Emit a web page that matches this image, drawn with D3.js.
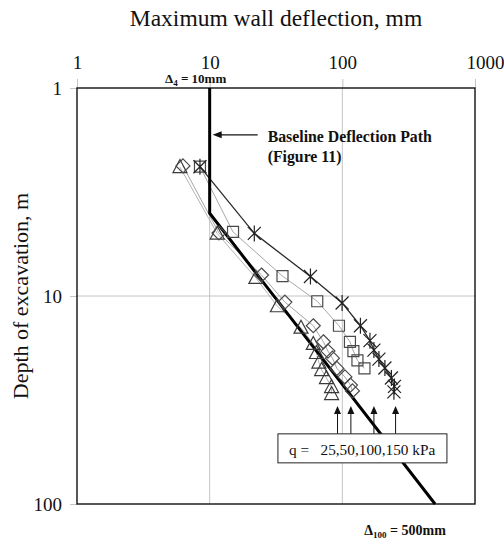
<!DOCTYPE html>
<html>
<head>
<meta charset="utf-8">
<script src="https://cdn.jsdelivr.net/npm/d3@7"></script>
<style>
  body { margin: 0; background: #fff; }
  svg { display: block; font-family: "Liberation Serif", "Times New Roman", serif; }
</style>
</head>
<body>
<div id="chart"></div>
<script>
const width = 504;
const height = 539;

// tick values
const xTicks = [1, 10, 100, 1000];
const yTicks = [1, 10, 100];
const gridX = [10, 100];
const gridY = [10];

// [deflection mm, depth m]
const q25 = [[5.97, 2.40], [11.4, 5.01], [22.3, 8.19], [32.4, 11.2], [48.8, 14.2], [60.4, 17.0],
  [63.8, 18.8], [66.6, 20.9], [69.8, 22.7], [75.9, 24.8], [83.0, 27.4], [83.0, 29.6]];
const q50 = [[6.29, 2.37], [11.75, 4.98], [24.6, 7.93], [36.9, 10.7], [60.4, 13.9], [72.0, 16.6],
  [77.9, 18.4], [84.2, 19.9], [91.0, 22.3], [104.6, 24.5], [115.1, 26.8], [119.2, 28.6]];
const q100 = [[8.45, 2.39], [15.0, 4.92], [35.4, 8.02], [64.7, 10.6], [94.3, 13.9], [114.1, 16.6],
  [121.2, 18.4], [130.0, 20.4], [146.8, 22.3]];
const q150 = [[8.45, 2.39], [21.7, 5.0], [57.5, 8.06], [99.6, 10.8], [136.9, 13.9], [161.5, 16.4],
  [173.0, 18.2], [188.7, 20.1], [209.4, 22.2], [234.4, 24.8], [247.0, 27.2], [244.8, 28.9]];

// baseline deflection path (Figure 11)
const baselinePath = [[10, 1], [10, 4], [500, 100]];

// arrows pointing at the q series
const arrowX = [92, 116, 173, 252];
const arrowDepth = [33.8, 46];

const x = d3.scaleLog().domain([1, 1000]).range([77, 475]);
const y = d3.scaleLog().domain([1, 100]).range([88, 504]);

const svg = d3.select('#chart')
  .append('svg')
  .attr('width', width)
  .attr('height', height);

// gridlines
const grid = svg.append('g').attr('stroke', '#c4c4c4').attr('stroke-width', 1);
grid.selectAll('line.gx')
  .data(gridX)
  .join('line')
  .attr('x1', d => x(d)).attr('x2', d => x(d))
  .attr('y1', y(1)).attr('y2', y(100));
grid.selectAll('line.gy')
  .data(gridY)
  .join('line')
  .attr('x1', x(1)).attr('x2', x(1000))
  .attr('y1', d => y(d)).attr('y2', d => y(d));

// axes
const xAxis = svg.append('g')
  .attr('transform', `translate(0, ${y(1)})`)
  .call(d3.axisTop(x).tickValues(xTicks).tickFormat(d3.format('d')).tickSize(9).tickPadding(10));
const yAxis = svg.append('g')
  .attr('transform', `translate(${x(1)}, 0)`)
  .call(d3.axisLeft(y).tickValues(yTicks).tickFormat(d3.format('d')).tickSize(7).tickPadding(8));

[xAxis, yAxis].forEach(a => {
  a.select('.domain').remove();
  a.selectAll('line').attr('stroke', '#c4c4c4');
  a.selectAll('text')
    .attr('fill', '#111')
    .style('font-size', '19px')
    .style('font-family', '"Liberation Serif", serif');
});
xAxis.selectAll('text').filter(d => d === 1000).attr('dx', 10);
yAxis.selectAll('text').attr('dy', '0.35em');

// frame
svg.append('rect')
  .attr('x', x(1)).attr('y', y(1))
  .attr('width', x(1000) - x(1))
  .attr('height', y(100) - y(1))
  .attr('fill', 'none')
  .attr('stroke', '#111')
  .attr('stroke-width', 1.4);

// axis titles
svg.append('text')
  .attr('x', (x(1) + x(1000)) / 2)
  .attr('y', 26)
  .attr('text-anchor', 'middle')
  .style('font-size', '23.5px')
  .attr('fill', '#111')
  .text('Maximum wall deflection, mm');

svg.append('text')
  .attr('transform', `translate(28, ${(y(1) + y(100)) / 2}) rotate(-90)`)
  .attr('text-anchor', 'middle')
  .style('font-size', '22px')
  .attr('fill', '#111')
  .text('Depth of excavation, m');

const line = d3.line().x(d => x(d[0])).y(d => y(d[1]));

// series lines
const series = [
  { data: q25, color: '#b4b4b4', width: 1, mark: 'triangle' },
  { data: q50, color: '#a4a4a4', width: 1, mark: 'diamond' },
  { data: q100, color: '#a8a8a8', width: 1, mark: 'square' },
  { data: q150, color: '#2a2a2a', width: 1.3, mark: 'star' }
];

svg.append('g')
  .selectAll('path')
  .data(series)
  .join('path')
  .attr('d', d => line(d.data))
  .attr('fill', 'none')
  .attr('stroke', d => d.color)
  .attr('stroke-width', d => d.width);

// baseline deflection path
svg.append('path')
  .attr('d', line(baselinePath))
  .attr('fill', 'none')
  .attr('stroke', '#000')
  .attr('stroke-width', 3);

// markers
const markPaths = {
  triangle: 'M0,-7.5L7,5.5L-7,5.5Z',
  diamond: 'M0,-7L7,0L0,7L-7,0Z',
  square: 'M-5.5,-5.5H5.5V5.5H-5.5Z',
  star: 'M-6.5,-6.5L6.5,6.5M-6.5,6.5L6.5,-6.5M0,-8V8'
};
const markColor = { triangle: '#3a3a3a', diamond: '#4a4a4a', square: '#4a4a4a', star: '#222' };

series.forEach(s => {
  svg.append('g')
    .selectAll('path')
    .data(s.data)
    .join('path')
    .attr('transform', d => `translate(${x(d[0])}, ${y(d[1])})`)
    .attr('d', markPaths[s.mark])
    .attr('fill', 'none')
    .attr('stroke', markColor[s.mark])
    .attr('stroke-width', 1.2);
});

// arrows up to the series
const arrows = svg.append('g');
arrows.selectAll('line')
  .data(arrowX)
  .join('line')
  .attr('x1', d => x(d)).attr('x2', d => x(d))
  .attr('y1', y(arrowDepth[1])).attr('y2', y(arrowDepth[0]) + 4)
  .attr('stroke', '#111')
  .attr('stroke-width', 1);
arrows.selectAll('path')
  .data(arrowX)
  .join('path')
  .attr('transform', d => `translate(${x(d)}, ${y(arrowDepth[0])})`)
  .attr('d', 'M0,0L3.5,8L-3.5,8Z')
  .attr('fill', '#111');

// q legend box
const boxLeft = x(32.7);
const boxTop = y(arrowDepth[1]);
svg.append('rect')
  .attr('x', boxLeft).attr('y', boxTop)
  .attr('width', 169).attr('height', 29)
  .attr('fill', '#fff')
  .attr('stroke', '#222')
  .attr('stroke-width', 1);
svg.append('text')
  .attr('x', boxLeft + 11)
  .attr('y', boxTop + 21)
  .style('font-size', '15.3px')
  .style('white-space', 'pre')
  .attr('fill', '#111')
  .text('q =   25,50,100,150 kPa');

// baseline annotation
const noteY = y(1.68);
svg.append('line')
  .attr('x1', x(10) + 10).attr('x2', x(10) + 48)
  .attr('y1', noteY).attr('y2', noteY)
  .attr('stroke', '#111').attr('stroke-width', 1.2);
svg.append('path')
  .attr('transform', `translate(${x(10) + 3}, ${noteY})`)
  .attr('d', 'M0,0L9,-3.5L9,3.5Z')
  .attr('fill', '#111');

const note = svg.append('text')
  .attr('x', x(10) + 58)
  .attr('y', noteY + 7)
  .style('font-size', '15.8px')
  .style('font-weight', 'bold')
  .attr('fill', '#111');
note.append('tspan').text('Baseline Deflection Path');
note.append('tspan').attr('x', x(10) + 58).attr('dy', 20).text('(Figure 11)');

// delta labels
const d4 = svg.append('text')
  .attr('x', x(10) - 14)
  .attr('y', y(1) - 5)
  .attr('text-anchor', 'middle')
  .style('font-size', '13px')
  .style('font-weight', 'bold')
  .attr('fill', '#111');
d4.append('tspan').text('Δ');
d4.append('tspan').attr('dy', 3).style('font-size', '9px').text('4');
d4.append('tspan').attr('dy', -3).text(' = 10mm');

const d100 = svg.append('text')
  .attr('x', x(500) - 30)
  .attr('y', 535)
  .attr('text-anchor', 'middle')
  .style('font-size', '14px')
  .style('font-weight', 'bold')
  .attr('fill', '#111');
d100.append('tspan').text('Δ');
d100.append('tspan').attr('dy', 3).style('font-size', '9px').text('100');
d100.append('tspan').attr('dy', -3).text(' = 500mm');
</script>
</body>
</html>
